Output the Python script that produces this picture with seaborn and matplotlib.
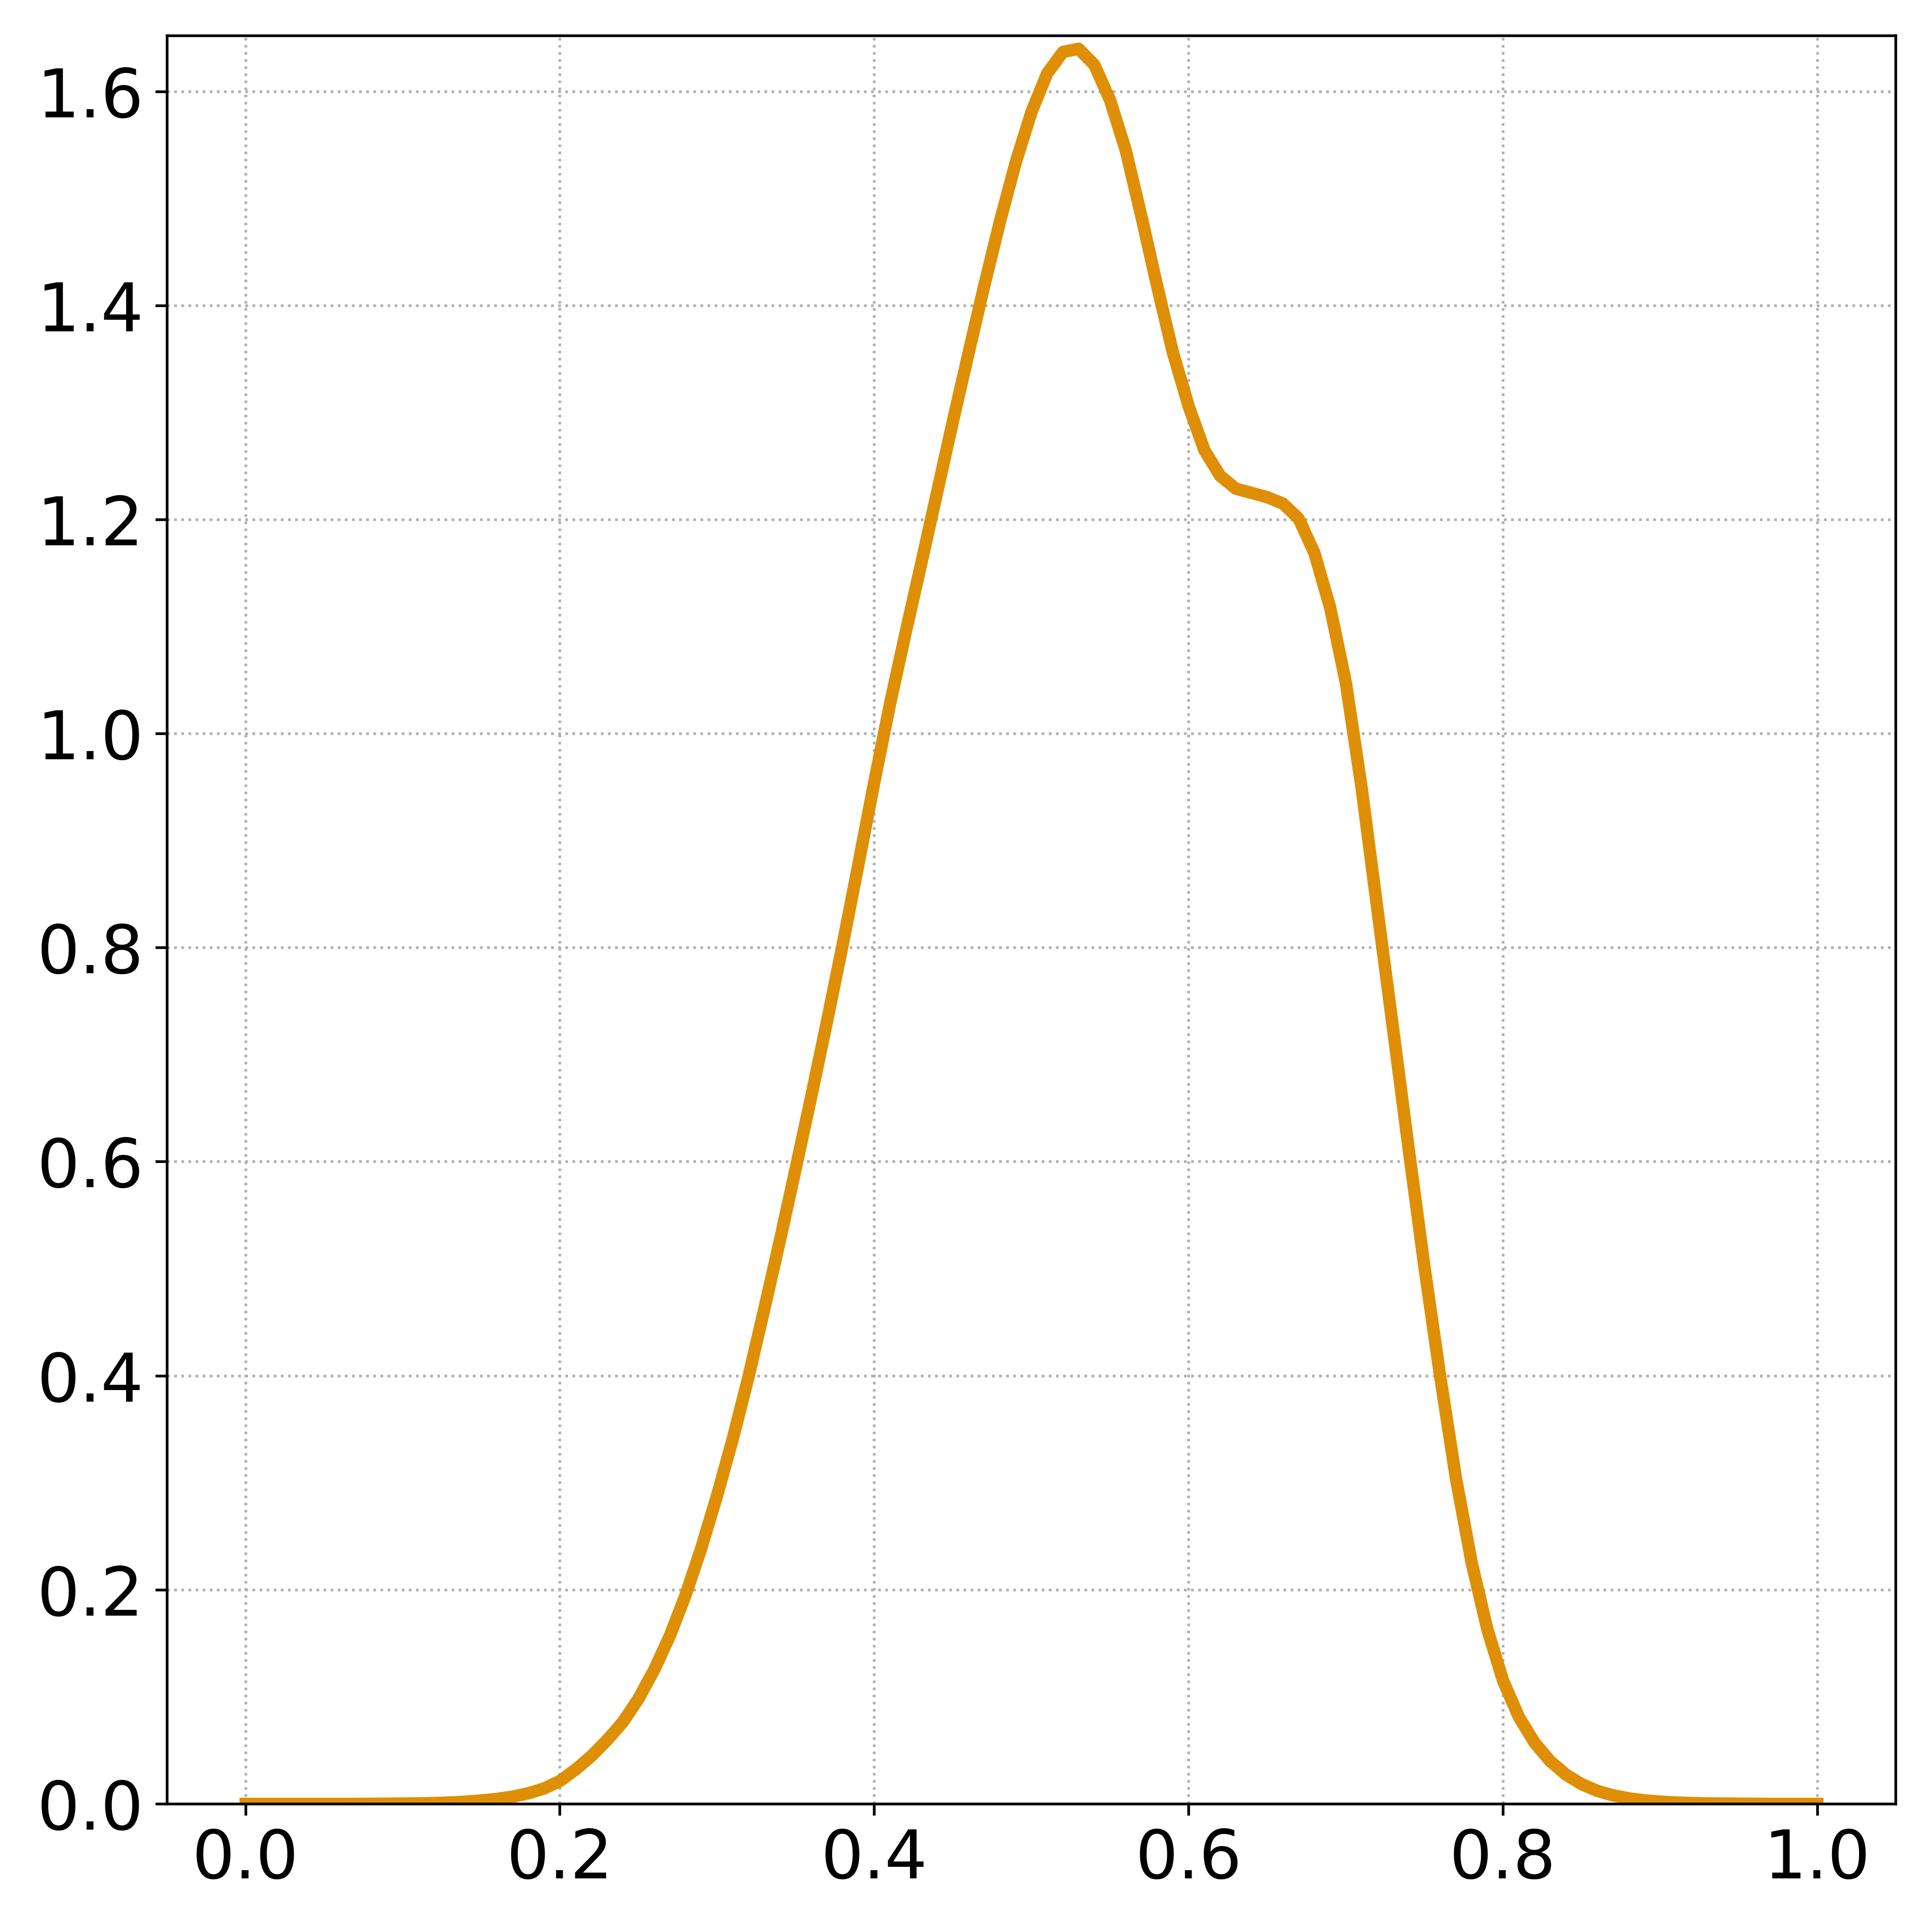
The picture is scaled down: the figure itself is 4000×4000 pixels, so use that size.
import numpy as np
import matplotlib
matplotlib.use("Agg")
import matplotlib.pyplot as plt
import seaborn as sns

# evaluation grid of the density curve (0.00 .. 1.00, step 0.01)
grid_x = np.linspace(0.0, 1.0, 101)

# density values, one per grid point
density = [
    0.0, 0.0, 0.0, 0.0, 0.0, 0.0, 0.0, 0.0, 0.0001, 0.0002,
    0.0003, 0.0005, 0.0008, 0.0013, 0.0021, 0.0032, 0.0047, 0.0068, 0.0100, 0.0145,
    0.0215, 0.0322, 0.0448, 0.0597, 0.0765, 0.0985, 0.1255, 0.1575, 0.1955, 0.2395,
    0.2885, 0.3415, 0.3995, 0.4625, 0.527, 0.594, 0.662, 0.732, 0.804, 0.879,
    0.955, 1.028, 1.095, 1.160, 1.226, 1.292, 1.356, 1.419, 1.479, 1.534,
    1.581, 1.617, 1.637, 1.640, 1.625, 1.592, 1.545, 1.483, 1.418, 1.356,
    1.306, 1.265, 1.241, 1.229, 1.225, 1.221, 1.215, 1.201, 1.169, 1.118,
    1.048, 0.950, 0.837, 0.725, 0.612, 0.502, 0.400, 0.305, 0.226, 0.1635,
    0.1154, 0.0816, 0.0574, 0.040, 0.0275, 0.0185, 0.0122, 0.0080, 0.0052, 0.0033,
    0.0021, 0.0013, 0.0008, 0.0005, 0.0003, 0.0002, 0.0001, 0.0, 0.0, 0.0,
    0.0,
]

line_color = "#DE8F05"

fig, ax = plt.subplots(figsize=(8, 8), dpi=500)
sns.lineplot(x=grid_x, y=density, color=line_color, linewidth=3.7, ax=ax)

ax.set_xlim(-0.05, 1.05)
ax.set_ylim(0, 1.652)
ax.grid(True, linestyle=":", linewidth=0.8, color="#b0b0b0")
ax.tick_params(labelsize=20)
ax.set_xlabel("")
ax.set_ylabel("")

fig.subplots_adjust(left=0.0865, right=0.9813, bottom=0.0663, top=0.9814)
fig.savefig("out.png", dpi=500)
plt.close(fig)
